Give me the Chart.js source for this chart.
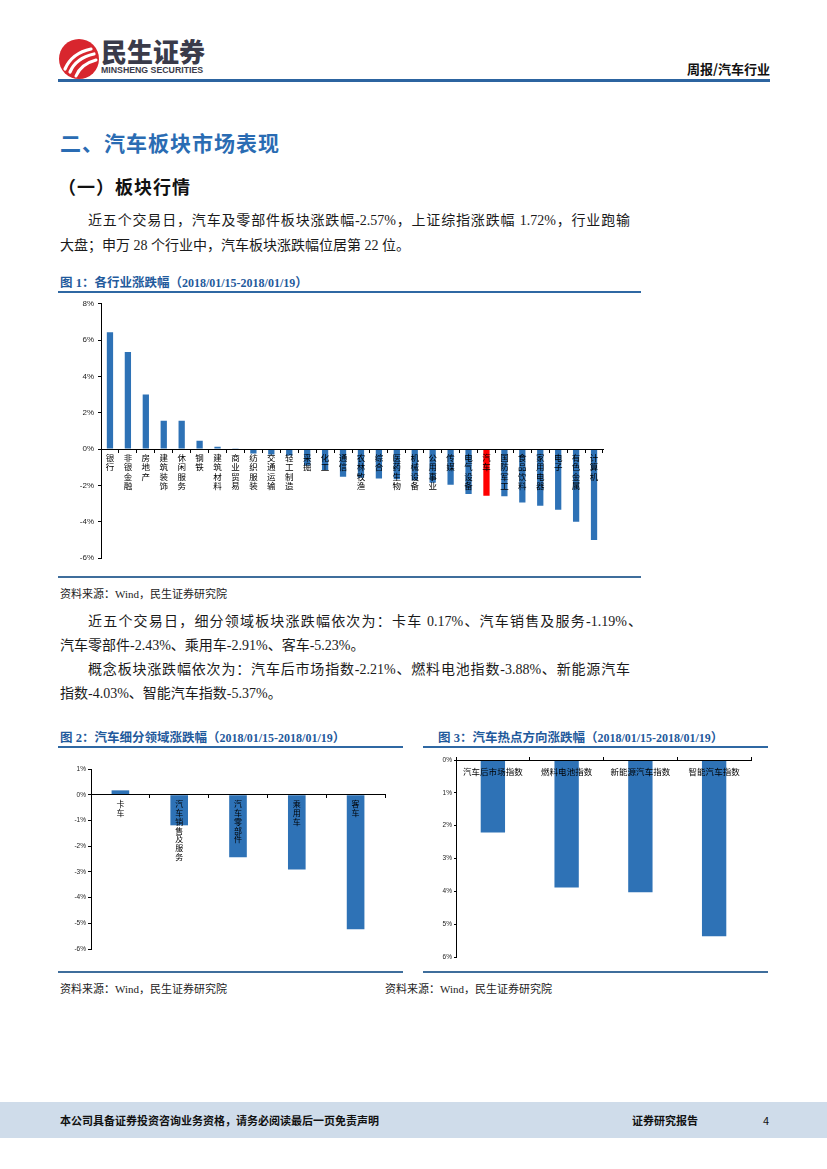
<!DOCTYPE html>
<html><head><meta charset="utf-8">
<script src="https://cdn.jsdelivr.net/npm/chart.js@4.4.0/dist/chart.umd.min.js"></script>
<style>
html,body{margin:0;padding:0;background:#fff}
body{width:827px;height:1169px;position:relative;overflow:hidden;font-family:"Liberation Serif","Noto Sans CJK SC",serif;color:#1a1a1a}
.a{position:absolute;white-space:nowrap}
.rule{position:absolute;background:#2f68a3}
.txt{font-size:14px;line-height:20px;height:20px}
.just{text-align:justify;text-align-last:justify}
.fig{font-family:"Liberation Serif","Noto Sans CJK SC",serif;font-weight:bold;font-size:12.5px;line-height:15px;color:#1f5a9c}
.fig .d{font-size:12px}
.src{font-size:11px;line-height:14px;color:#222}
canvas{position:absolute}
</style></head><body>

<!-- header -->
<svg class="a" style="left:58px;top:38px" width="42" height="42" viewBox="0 0 42 42">
  <circle cx="21" cy="21" r="20" fill="#d8262e"/>
  <path d="M7 31 Q14 15 33 11" stroke="#fff" stroke-width="3.2" fill="none" stroke-linecap="round"/>
  <path d="M12 34 Q18 20 36 16" stroke="#fff" stroke-width="3.2" fill="none" stroke-linecap="round"/>
  <path d="M18 38 Q23 26 38 22" stroke="#fff" stroke-width="3" fill="none" stroke-linecap="round"/>
</svg>
<div class="a" style="left:101px;top:36px;font-family:'Noto Sans CJK SC';font-weight:900;font-size:26px;line-height:30px;color:#3a3b4a">民生证券</div>
<div class="a" style="left:101px;top:65px;font-family:'Liberation Sans';font-weight:bold;font-size:8.5px;line-height:11px;color:#3a3b4a;transform:scaleX(1.03);transform-origin:left top">MINSHENG SECURITIES</div>
<div class="a" style="right:57px;top:61px;font-family:'Noto Sans CJK SC';font-weight:bold;font-size:13px;line-height:16px;color:#111">周报/汽车行业</div>
<div class="rule" style="left:58px;top:79px;width:712px;height:3px;background:#2c64a0"></div>

<!-- headings -->
<div class="a" style="left:60px;top:129px;font-family:'Noto Sans CJK SC';font-weight:bold;font-size:21px;line-height:26px;color:#2a6cb3;letter-spacing:1px">二、汽车板块市场表现</div>
<div class="a" style="left:58px;top:175px;font-family:'Noto Sans CJK SC';font-weight:bold;font-size:18px;line-height:22px;color:#111;letter-spacing:1px">（一）板块行情</div>

<div class="a txt just" style="left:88px;top:211px;width:542px">近五个交易日，汽车及零部件板块涨跌幅-2.57%，上证综指涨跌幅 1.72%，行业跑输</div>
<div class="a txt" style="left:60px;top:236px">大盘；申万 28 个行业中，汽车板块涨跌幅位居第 22 位。</div>

<!-- figure 1 -->
<div class="a fig" style="left:60px;top:276px">图 1：各行业涨跌幅（<span class="d">2018/01/15-2018/01/19</span>）</div>
<div class="rule" style="left:58px;top:291px;width:583px;height:2px"></div>
<canvas id="c1" width="581" height="280" style="left:60px;top:295px"></canvas>
<div class="rule" style="left:58px;top:576px;width:583px;height:2px;background:#3f6e9c"></div>
<div class="a src" style="left:60px;top:587px">资料来源：Wind，民生证券研究院</div>

<div class="a txt just" style="left:88px;top:612px;width:554px">近五个交易日，细分领域板块涨跌幅依次为：卡车 0.17%、汽车销售及服务-1.19%、</div>
<div class="a txt" style="left:60px;top:636px">汽车零部件-2.43%、乘用车-2.91%、客车-5.23%。</div>
<div class="a txt just" style="left:88px;top:660px;width:542px">概念板块涨跌幅依次为：汽车后市场指数-2.21%、燃料电池指数-3.88%、新能源汽车</div>
<div class="a txt" style="left:60px;top:684px">指数-4.03%、智能汽车指数-5.37%。</div>

<!-- figure 2 & 3 -->
<div class="a fig" style="left:60px;top:731px">图 2：汽车细分领域涨跌幅（<span class="d">2018/01/15-2018/01/19</span>）</div>
<div class="a fig" style="left:438px;top:731px">图 3：汽车热点方向涨跌幅（<span class="d">2018/01/15-2018/01/19</span>）</div>
<div class="rule" style="left:58px;top:746px;width:345px;height:2px"></div>
<div class="rule" style="left:423px;top:746px;width:345px;height:2px"></div>
<canvas id="c2" width="345" height="220" style="left:58px;top:750px"></canvas>
<canvas id="c3" width="345" height="220" style="left:423px;top:750px"></canvas>
<div class="rule" style="left:58px;top:971px;width:345px;height:2px;background:#3f6e9c"></div>
<div class="rule" style="left:423px;top:971px;width:345px;height:2px;background:#3f6e9c"></div>
<div class="a src" style="left:60px;top:982px">资料来源：Wind，民生证券研究院</div>
<div class="a src" style="left:385px;top:982px">资料来源：Wind，民生证券研究院</div>

<!-- footer -->
<div class="a" style="left:0;top:1102px;width:827px;height:36px;background:#cfdcea"></div>
<div class="a" style="left:60px;top:1112px;font-family:'Noto Sans CJK SC';font-weight:bold;font-size:11px;line-height:16px;color:#111">本公司具备证券投资咨询业务资格，请务必阅读最后一页免责声明</div>
<div class="a" style="left:632px;top:1112px;font-family:'Noto Sans CJK SC';font-weight:bold;font-size:11px;line-height:16px;color:#111">证券研究报告</div>
<div class="a" style="left:763px;top:1112px;font-family:'Noto Sans CJK SC';font-size:11px;line-height:16px;color:#111">4</div>

<script>
// ---- Figure 1: 申万一级行业涨跌幅 ----
const industries = ['银行','非银金融','房地产','建筑装饰','休闲服务','钢铁','建筑材料','商业贸易','纺织服装','交通运输','轻工制造','采掘','化工','通信','农林牧渔','综合','医药生物','机械设备','公用事业','传媒','电气设备','汽车','国防军工','食品饮料','家用电器','电子','有色金属','计算机'];
const industryChange = [6.44,5.34,3.00,1.56,1.56,0.46,0.13,0.05,-0.25,-0.30,-0.35,-0.90,-1.15,-1.52,-1.58,-1.62,-1.66,-1.72,-1.85,-1.97,-2.47,-2.57,-2.60,-2.95,-3.12,-3.34,-4.00,-5.01];
const highlightIndustry = '汽车';
const fig1Ticks = [-6,-4,-2,0,2,4,6,8];
const fig1TickLabels = ['-6%','-4%','-2%','0%','2%','4%','6%','8%'];

// ---- Figure 2: 汽车细分领域涨跌幅 ----
const segments = ['卡车','汽车销售及服务','汽车零部件','乘用车','客车'];
const segmentChange = [0.17,-1.19,-2.43,-2.91,-5.23];
const fig2Ticks = [-6,-5,-4,-3,-2,-1,0,1];
const fig2TickLabels = ['-6%','-5%','-4%','-3%','-2%','-1%','0%','1%'];

// ---- Figure 3: 汽车热点方向涨跌幅 ----
const themes = ['汽车后市场指数','燃料电池指数','新能源汽车指数','智能汽车指数'];
const themeChange = [-2.21,-3.88,-4.03,-5.37];
const fig3Ticks = [-6,-5,-4,-3,-2,-1,0];
const fig3TickLabels = ['6%','5%','4%','3%','2%','1%','0%'];

const BLUE = '#2e72b6', RED = '#ff0000', INK = '#000';
const CJK = "'Noto Sans CJK SC'";
const LAT = "'Liberation Sans'";
const vertical = s => s.split('');
const tickFmt = (ticks, labels) => v => { const i = ticks.indexOf(v); return i < 0 ? '' : labels[i]; };

function makeChart(id, o) {
  return new Chart(document.getElementById(id), {
    type: 'bar',
    data: {
      labels: o.labels,
      datasets: [{
        data: o.values,
        backgroundColor: o.colors,
        barPercentage: o.barPct,
        categoryPercentage: 1
      }]
    },
    options: {
      responsive: false,
      animation: false,
      layout: { padding: o.padding },
      plugins: { legend: { display: false }, tooltip: { enabled: false } },
      scales: {
        x: {
          position: { y: 0 },
          grid: { display: true, drawOnChartArea: false, offset: true, tickLength: o.xTick, color: INK, lineWidth: 1, z: 1 },
          border: { display: true, color: INK, width: 1, z: 1 },
          ticks: { z: 2, autoSkip: false, maxRotation: 0, minRotation: 0, padding: o.xPad, color: INK,
                   font: { family: CJK, size: o.xFont, lineHeight: o.xLH } }
        },
        y: {
          min: o.min, max: o.max,
          afterFit: s => { s.width = o.yWidth; },
          grid: { display: true, drawOnChartArea: false, tickLength: o.yTick, color: INK, lineWidth: 1 },
          border: { display: true, color: INK, width: 1 },
          ticks: { stepSize: o.step, padding: o.yPad, color: '#222', callback: tickFmt(o.ticks, o.tickLabels),
                   font: { family: LAT, size: o.yFont } }
        }
      }
    }
  });
}

makeChart('c1', {
  labels: industries.map(vertical),
  values: industryChange,
  colors: industries.map(n => n === highlightIndustry ? RED : BLUE),
  barPct: 0.35,
  padding: { top: 8, right: 38, bottom: 17, left: 0 },
  xTick: 3, xPad: 1, xFont: 8.5, xLH: 1.1,
  min: -6, max: 8, step: 2, ticks: fig1Ticks, tickLabels: fig1TickLabels,
  yWidth: 41, yTick: 3, yPad: 4, yFont: 8
});

makeChart('c2', {
  labels: segments.map(vertical),
  values: segmentChange,
  colors: segments.map(() => BLUE),
  barPct: 0.3,
  padding: { top: 19, right: 18, bottom: 21, left: 0 },
  xTick: 3, xPad: 2, xFont: 8, xLH: 1.1,
  min: -6, max: 1, step: 1, ticks: fig2Ticks, tickLabels: fig2TickLabels,
  yWidth: 33, yTick: 3, yPad: 2, yFont: 6.5
});

makeChart('c3', {
  labels: themes,
  values: themeChange,
  colors: themes.map(() => BLUE),
  barPct: 0.33,
  padding: { top: 10, right: 17, bottom: 13, left: 0 },
  xTick: -4, xPad: 11, xFont: 8.5, xLH: 1.2,
  min: -6, max: 0, step: 1, ticks: fig3Ticks, tickLabels: fig3TickLabels,
  yWidth: 33, yTick: 2, yPad: 2, yFont: 6.5
});
</script>
</body></html>
